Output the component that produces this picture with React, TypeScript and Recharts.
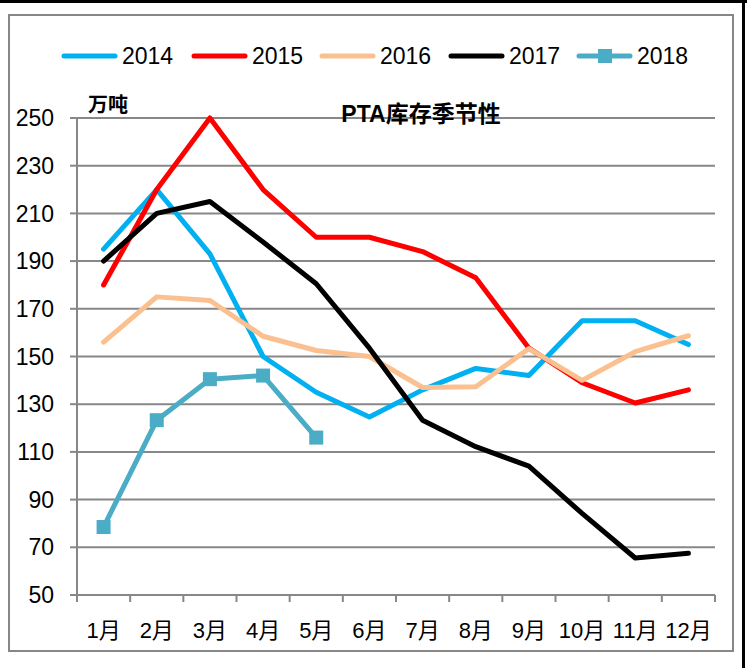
import React from "react";
import { LineChart, Line, XAxis, YAxis, CartesianGrid } from "recharts";

const months = ["1月", "2月", "3月", "4月", "5月", "6月", "7月", "8月", "9月", "10月", "11月", "12月"];
const y2014 = [195, 220, 193, 150, 135, 124.6, 136, 145, 142, 165, 165, 155];
const y2015 = [180, 220, 250, 220, 200, 200, 194, 183, 153.5, 139, 130.5, 136];
const y2016 = [156, 175, 173.5, 158.5, 152.5, 150, 137, 137.3, 153.3, 140, 152, 158.7];
const y2017 = [190, 210, 215, 198, 180.5, 153.5, 123.3, 112.2, 104, 84.2, 65.5, 67.5];
const y2018 = [78.5, 123.3, 140.5, 142, 116, null, null, null, null, null, null, null];
const yTicks = [50, 70, 90, 110, 130, 150, 170, 190, 210, 230, 250];

const COLORS = {
  y2014: "#00B0F0",
  y2015: "#FF0000",
  y2016: "#FAC090",
  y2017: "#000000",
  y2018: "#4BACC6",
};

const SERIES = [
  { key: "y2014", name: "2014" },
  { key: "y2015", name: "2015" },
  { key: "y2016", name: "2016" },
  { key: "y2017", name: "2017" },
  { key: "y2018", name: "2018" },
];

const data = months.map((m, i) => ({
  month: m,
  y2014: y2014[i],
  y2015: y2015[i],
  y2016: y2016[i],
  y2017: y2017[i],
  y2018: y2018[i],
}));

const FONT = "'Liberation Sans', Arial, 'Noto Sans CJK SC', sans-serif";
const GRID = "#878787";

// plot area: x 77..715, y 118..595
const HALF_BAND = (715 - 77) / 24;

const MonthTick = ({ x, y, payload, index }: any) => {
  const half = HALF_BAND;
  return (
    <g>
      <line x1={x - half} x2={x - half} y1={y} y2={y + 7} stroke={GRID} strokeWidth={2} />
      {index === months.length - 1 && (
        <line x1={x + half} x2={x + half} y1={y} y2={y + 7} stroke={GRID} strokeWidth={2} />
      )}
      <text
        x={x}
        y={y + 35}
        textAnchor="middle"
        dominantBaseline="central"
        fontSize={22}
        fontFamily={FONT}
        fill="#000"
      >
        {payload.value}
      </text>
    </g>
  );
};

const SquareDot = ({ cx, cy, value }: any) => {
  if (value == null || cx == null || cy == null) return null;
  return <rect x={cx - 7} y={cy - 7} width={14} height={14} fill={COLORS.y2018} />;
};

function Overlay() {
  const starts = [62, 192, 320, 449, 577];
  return (
    <svg
      width={747}
      height={668}
      style={{ position: "absolute", left: 0, top: 0, pointerEvents: "none" }}
    >
      <line x1={0} x2={747} y1={1.5} y2={1.5} stroke="#000" strokeWidth={3} />
      <line x1={743.5} x2={743.5} y1={0} y2={668} stroke="#000" strokeWidth={3} />
      <rect x={9} y={15} width={724} height={636} fill="none" stroke={GRID} strokeWidth={2} />
      {SERIES.map((s, i) => {
        const x0 = starts[i];
        const color = (COLORS as any)[s.key];
        return (
          <g key={s.key}>
            <line x1={x0 + 2} x2={x0 + 53} y1={56} y2={56} stroke={color} strokeWidth={5} strokeLinecap="round" />
            {s.key === "y2018" && (
              <rect x={x0 + 21} y={49} width={14} height={14} fill={color} />
            )}
            <text
              x={x0 + 60}
              y={56}
              dominantBaseline="central"
              fontSize={23}
              fontFamily={FONT}
              fill="#000"
            >
              {s.name}
            </text>
          </g>
        );
      })}
      <text
        x={88}
        y={105}
        dominantBaseline="central"
        fontSize={20}
        fontWeight="bold"
        fontFamily={FONT}
        fill="#000"
      >
        万吨
      </text>
      <text
        x={421}
        y={114}
        textAnchor="middle"
        dominantBaseline="central"
        fontSize={23}
        fontWeight="bold"
        fontFamily={FONT}
        fill="#000"
      >
        PTA库存季节性
      </text>
    </svg>
  );
}

export default function App() {
  return (
    <div
      style={{
        position: "absolute",
        left: 0,
        top: 0,
        width: 747,
        height: 668,
        background: "#fff",
      }}
    >
      <LineChart
        width={747}
        height={668}
        data={data}
        margin={{ top: 118, right: 32, left: 17, bottom: 13 }}
      >
        <CartesianGrid vertical={false} stroke={GRID} strokeWidth={2} />
        <XAxis
          dataKey="month"
          scale="band"
          height={60}
          axisLine={{ stroke: GRID, strokeWidth: 2 }}
          tickLine={false}
          tickSize={0}
          tickMargin={0}
          interval={0}
          tick={<MonthTick />}
        />
        <YAxis
          width={60}
          domain={[50, 250]}
          ticks={yTicks}
          interval={0}
          axisLine={{ stroke: GRID, strokeWidth: 2 }}
          tickLine={{ stroke: GRID, strokeWidth: 2 }}
          tickSize={7}
          tickMargin={16}
          tick={{ fontSize: 23, fontFamily: FONT, fill: "#000" }}
        />
        {SERIES.map((s) => (
          <Line
            key={s.key}
            dataKey={s.key}
            name={s.name}
            type="linear"
            stroke={(COLORS as any)[s.key]}
            strokeWidth={5}
            strokeLinejoin="round"
            strokeLinecap="round"
            dot={s.key === "y2018" ? <SquareDot /> : false}
            activeDot={false}
            connectNulls={false}
            isAnimationActive={false}
          />
        ))}
      </LineChart>
      <Overlay />
    </div>
  );
}
